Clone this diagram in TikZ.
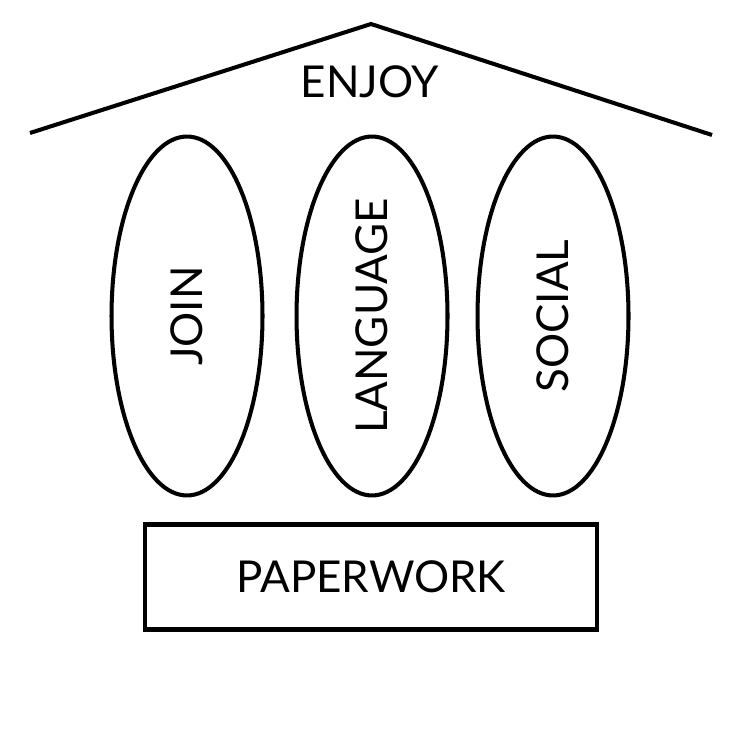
\documentclass[tikz,border=0pt]{standalone}
\usepackage{fontspec}
\setmainfont{Lato}
\usetikzlibrary{shapes.geometric,positioning}

\begin{document}
\begin{tikzpicture}[x=0.02cm,y=-0.02cm,line width=2.3pt]
			\tikzstyle{pillar}=[draw=black,ellipse,rotate=90,minimum width=7.18cm,minimum height=3.02cm,inner sep=0pt,font=\fontsize{25}{25}\selectfont]
			\tikzstyle{base}=[draw=black,rectangle,minimum width=9.06cm,minimum height=2.1cm,inner sep=0pt,font=\fontsize{25}{25}\selectfont]
			\useasboundingbox (0,0) rectangle (732,732);
			\node[pillar]    (join)      at (187,316)                       {JOIN};
			\node[pillar]    (language)  at (372,316)                       {LANGUAGE};
			\node[pillar]    (social)    at (553,316)                       {SOCIAL};
			\node[base]      (paperwork) at (371,577)                       {PAPERWORK};
			\coordinate      (left)      at (30,133);
			\coordinate      (top)       at (371,24);
			\coordinate      (right)     at (712,135);
			\node[font=\fontsize{25}{25}\selectfont] (enjoy) at (370,82)   {ENJOY};
			\draw (left) -- (top) -- (right);
		\end{tikzpicture}
\end{document}
